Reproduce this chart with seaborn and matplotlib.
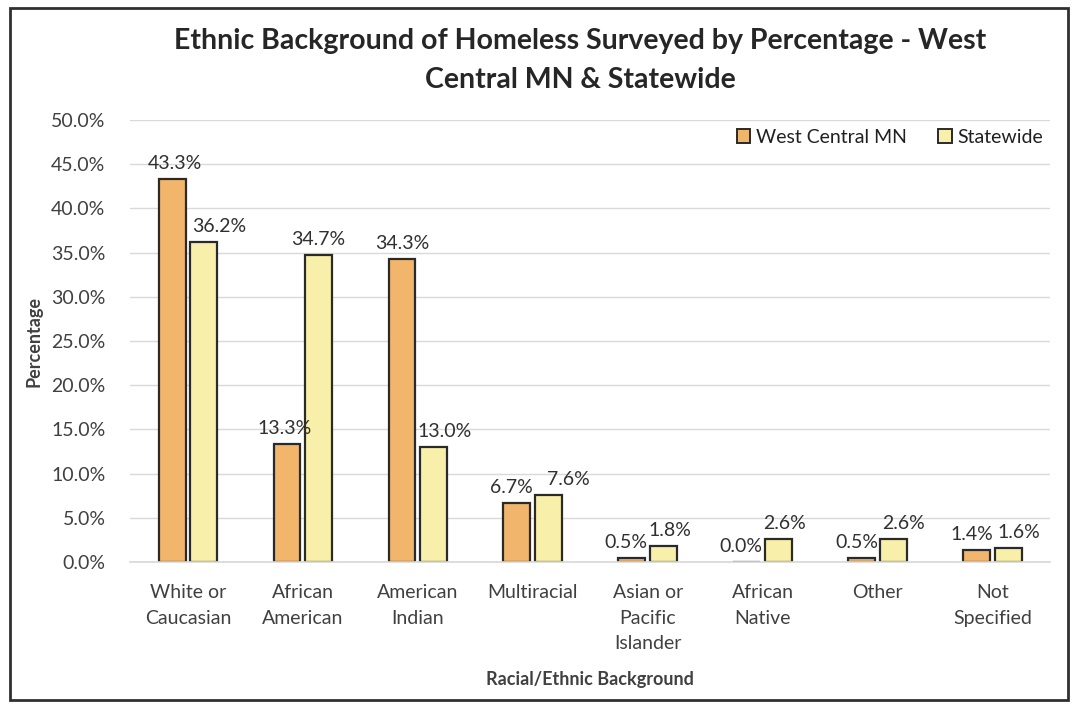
import matplotlib
matplotlib.use('Agg')
import matplotlib.pyplot as plt
import matplotlib.patches as mpatches
import pandas as pd
import seaborn as sns

categories = [
    'White or\nCaucasian', 'African\nAmerican', 'American\nIndian', 'Multiracial',
    'Asian or\nPacific\nIslander', 'African\nNative', 'Other', 'Not\nSpecified',
]
west_central = [43.3, 13.3, 34.3, 6.7, 0.5, 0.0, 0.5, 1.4]
statewide = [36.2, 34.7, 13.0, 7.6, 1.8, 2.6, 2.6, 1.6]
series_names = ['West Central MN', 'Statewide']
y_ticks = [0, 5, 10, 15, 20, 25, 30, 35, 40, 45, 50]

# horizontal nudges (pixels) of the value labels, like the hand-placed Excel labels
label_dx = [
    [3, -2, 0, -6, -6, -6, -5, -5],
    [15, 0, 11, 20, 6, 6, 10, 11],
]

df = pd.DataFrame({
    'category': categories * 2,
    'value': west_central + statewide,
    'series': [series_names[0]] * len(categories) + [series_names[1]] * len(categories),
})

sns.set_theme(style='white')
plt.rcParams['font.family'] = ['Lato', 'DejaVu Sans']

text_color = '#404040'
palette = {'West Central MN': '#F1B56C', 'Statewide': '#F8F0AA'}

fig = plt.figure(figsize=(10.78, 7.04), dpi=100)
ax = fig.add_axes([0.121, 0.2017, 0.853, 0.6278])

sns.barplot(
    data=df, x='category', y='value', hue='series', order=categories,
    hue_order=series_names, palette=palette, width=0.55, gap=0.15,
    edgecolor='#2a2a2a', linewidth=1.6, saturation=1, ax=ax, legend=False,
)

for container, dxs in zip(ax.containers, label_dx):
    for bar, value, dx in zip(container.patches, container.datavalues, dxs):
        ax.annotate(
            f'{value:.1f}%', (bar.get_x() + bar.get_width() / 2, bar.get_height()),
            xytext=(dx * 0.72, 5), textcoords='offset points',
            ha='center', va='bottom', fontsize=14, color='#303030',
        )

ax.set_ylim(0, 50)
ax.set_yticks(y_ticks)
ax.set_yticklabels([f'{t:.1f}%' for t in y_ticks])
ax.set_xlim(-0.5, len(categories) - 0.5)
ax.yaxis.grid(True, color='#d9d9d9', linewidth=1)
ax.set_axisbelow(True)
for side in ['left', 'right', 'top']:
    ax.spines[side].set_visible(False)
ax.spines['bottom'].set_color('#d9d9d9')
ax.tick_params(axis='both', length=0, labelsize=14, labelcolor=text_color)
ax.tick_params(axis='y', pad=18)
ax.tick_params(axis='x', pad=16)
for label in ax.get_xticklabels():
    label.set_linespacing(1.6)

ax.set_xlabel('Racial/Ethnic Background', fontsize=13, fontweight='bold',
              color=text_color, labelpad=14)
ax.set_ylabel('Percentage', fontsize=13, fontweight='bold', color=text_color,
              labelpad=6)

handles = [mpatches.Patch(facecolor=palette[s], edgecolor='#2a2a2a', linewidth=1.4)
           for s in series_names]
ax.legend(handles, series_names, loc='upper right', bbox_to_anchor=(1.012, 1.02),
          ncol=2, frameon=False, fontsize=14, handlelength=0.7, handleheight=0.7,
          handletextpad=0.3, columnspacing=1.6, labelcolor='#202020')

fig.suptitle('Ethnic Background of Homeless Surveyed by Percentage - West\nCentral MN & Statewide',
             fontsize=20.5, fontweight='bold', color='#262626', x=0.538, y=0.96,
             linespacing=1.6)

fig.patches.append(mpatches.Rectangle(
    (0.009, 0.006), 0.982, 0.982, transform=fig.transFigure, fill=False,
    edgecolor='#303030', linewidth=2))

fig.savefig('out.png', dpi=100)
